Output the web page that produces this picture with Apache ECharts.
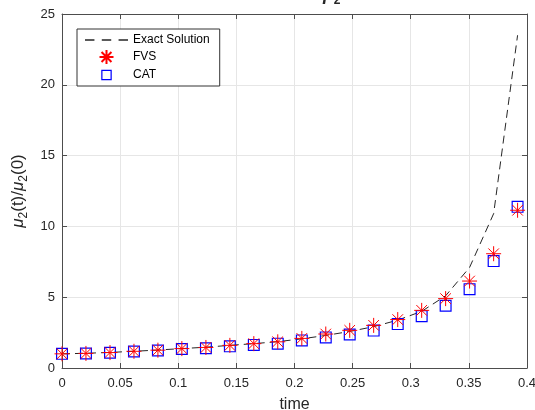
<!DOCTYPE html>
<html>
<head>
<meta charset="utf-8">
<script src="https://cdn.jsdelivr.net/npm/echarts@6/dist/echarts.min.js"></script>
<style>html,body{margin:0;padding:0;background:#fff;}#c{width:535px;height:410px;}</style>
</head>
<body>
<div id="c"></div>
<script>
const times = [0, 0.0206, 0.0413, 0.0619, 0.0825, 0.1031, 0.1238, 0.1444, 0.165, 0.1856, 0.2063, 0.2269, 0.2475, 0.2681, 0.2888, 0.3094, 0.33, 0.3506, 0.3713, 0.3919];
const exactValues = [1.0, 1.04, 1.1, 1.18, 1.27, 1.37, 1.47, 1.6, 1.72, 1.86, 2.06, 2.3, 2.58, 2.92, 3.38, 4.0, 5.1, 7.1, 10.9, 23.5];
const fvsValues = [1.0, 1.03, 1.09, 1.18, 1.26, 1.37, 1.45, 1.6, 1.72, 1.85, 2.09, 2.4, 2.66, 3.01, 3.42, 4.07, 4.9, 6.14, 8.07, 11.14];
const catValues = [1.0, 1.02, 1.08, 1.16, 1.24, 1.34, 1.4, 1.53, 1.63, 1.72, 1.95, 2.16, 2.37, 2.64, 3.1, 3.66, 4.4, 5.57, 7.55, 11.38];
const xTicks = {min: 0, max: 0.4, interval: 0.05};
const yTicks = {min: 0, max: 25, interval: 5};
const seriesNames = ['Exact Solution', 'FVS', 'CAT'];

const pair = (vals) => times.map((t, i) => [t, vals[i]]);
const FONT = 'Liberation Sans, Arial, sans-serif';
const AX = '#4d4d4d';
const asterisk = 'path://M0,10L20,10M10,0L10,20M2.93,2.93L17.07,17.07M17.07,2.93L2.93,17.07';
const dashIcon = 'path://M0,0h9v1.2h-9zM16,0h9v1.2h-9zM32,0h9v1.2h-9z';
const squareFrame = 'path://M0,0L12,0L12,12L0,12ZM1.2,1.2L1.2,10.8L10.8,10.8L10.8,1.2Z';
const squareIcon = 'path://M-2,-2ZM0,0L12,0L12,12L0,12ZM1.4,1.4L1.4,10.6L10.6,10.6L10.6,1.4ZM14,14Z';

const chart = echarts.init(document.getElementById('c'), null, {renderer: 'canvas'});
const baseX = {
  type: 'value', min: xTicks.min, max: xTicks.max, interval: xTicks.interval,
  axisLine: {show: true, onZero: false, lineStyle: {color: AX, width: 1}},
  axisTick: {show: true, inside: true, length: 5, lineStyle: {color: AX}},
  splitLine: {show: false}
};
const baseY = {
  type: 'value', min: yTicks.min, max: yTicks.max, interval: yTicks.interval,
  axisLine: {show: true, onZero: false, lineStyle: {color: AX, width: 1}},
  axisTick: {show: true, inside: true, length: 5, lineStyle: {color: AX}},
  splitLine: {show: false}
};
chart.setOption({
  animation: false,
  backgroundColor: '#fff',
  title: {
    text: '{a|μ}{s|2}', left: 318, top: -22,
    textStyle: {rich: {
      a: {fontSize: 18, fontFamily: FONT, color: '#262626', fontStyle: 'italic', lineHeight: 24},
      s: {fontSize: 12, fontFamily: FONT, color: '#262626', lineHeight: 12, verticalAlign: 'bottom'}
    }}
  },
  grid: {left: 62, right: 8, top: 14, bottom: 42, containLabel: false, outerBoundsMode: 'none'},
  legend: {
    orient: 'vertical', left: 77, top: 29,
    padding: [5, 10, 4, 8], itemWidth: 43, itemHeight: 14, itemGap: 3,
    borderColor: '#333', borderWidth: 1, backgroundColor: '#fff', borderRadius: 0,
    textStyle: {fontSize: 12, color: '#000', fontFamily: FONT},
    data: [
      {name: seriesNames[0], icon: dashIcon},
      {name: seriesNames[1], icon: asterisk},
      {name: seriesNames[2], icon: squareIcon}
    ]
  },
  xAxis: [
    Object.assign({}, baseX, {
      position: 'bottom',
      axisLabel: {color: '#262626', fontSize: 13, margin: 9, fontFamily: FONT},
      splitLine: {show: true, lineStyle: {color: '#e6e6e6', width: 1}},
      name: 'time', nameLocation: 'middle', nameGap: 29,
      nameTextStyle: {fontSize: 16, color: '#262626', fontFamily: FONT}
    }),
    Object.assign({}, baseX, {position: 'top', axisLabel: {show: false}})
  ],
  yAxis: [
    Object.assign({}, baseY, {
      position: 'left',
      axisLabel: {color: '#262626', fontSize: 13, margin: 7, fontFamily: FONT},
      splitLine: {show: true, lineStyle: {color: '#e6e6e6', width: 1}},
      name: '{m|μ}{s|2}{a|(t)/}{m|μ}{s|2}{a|(0)}', nameLocation: 'middle', nameGap: 32, nameRotate: 90,
      nameTextStyle: {rich: {
        a: {fontSize: 17, fontFamily: FONT, color: '#262626', lineHeight: 22},
        m: {fontSize: 17, fontFamily: FONT, color: '#262626', fontStyle: 'italic', lineHeight: 22},
        s: {fontSize: 12, fontFamily: FONT, color: '#262626', lineHeight: 10, verticalAlign: 'bottom'}
      }}
    }),
    Object.assign({}, baseY, {position: 'right', axisLabel: {show: false}})
  ],
  series: [
    {
      name: seriesNames[0], type: 'line', data: pair(exactValues), xAxisIndex: 0, yAxisIndex: 0,
      symbol: 'none', z: 2,
      lineStyle: {color: '#262626', width: 1, type: [8, 5]},
      itemStyle: {color: '#262626'}
    },
    {
      name: seriesNames[2], type: 'scatter', data: pair(catValues), xAxisIndex: 0, yAxisIndex: 0,
      symbol: squareFrame, symbolSize: 12, z: 3,
      itemStyle: {color: '#0000ff', borderWidth: 0, opacity: 1}
    },
    {
      name: seriesNames[1], type: 'scatter', data: pair(fvsValues), xAxisIndex: 0, yAxisIndex: 0,
      symbol: asterisk, symbolSize: 15, z: 4,
      itemStyle: {color: 'rgba(0,0,0,0)', borderColor: '#ff0000', borderWidth: 1, opacity: 1}
    }
  ]
});
</script>
</body>
</html>
